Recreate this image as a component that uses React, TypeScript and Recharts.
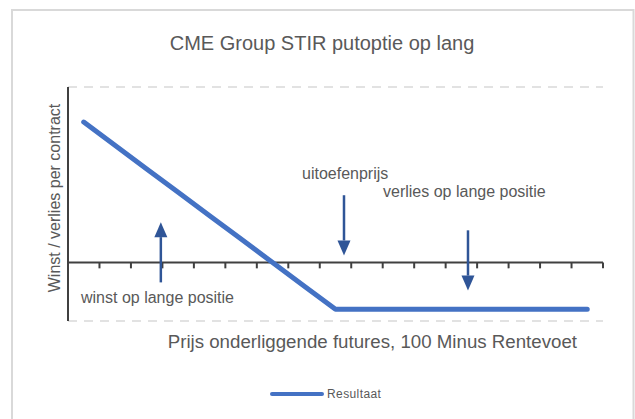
import { LineChart, Line, XAxis, YAxis, CartesianGrid, ReferenceLine } from 'recharts'

// price steps (category centres on a 0..17 axis) and the payoff of the long put
const priceSteps = [0.5, 1.5, 2.5, 3.5, 4.5, 5.5, 6.5, 7.5, 8.5, 9.5, 10.5, 11.5, 12.5, 13.5, 14.5, 15.5, 16.5]
const resultaat = [2.4, 2.0, 1.6, 1.2, 0.8, 0.4, 0, -0.4, -0.8, -0.8, -0.8, -0.8, -0.8, -0.8, -0.8, -0.8, -0.8]
const seriesName = 'Resultaat'

const xTicks = [0, 1, 2, 3, 4, 5, 6, 7, 8, 9, 10, 11, 12, 13, 14, 15, 16, 17]
const yTicks = [-1, 0, 1, 2, 3]

// annotation arrows, in data units
const arrowX = [2.95, 8.77, 12.71]
const arrowFrom = [-0.34, 1.15, 0.55]
const arrowTo = [0.69, 0.12, -0.48]

const data = priceSteps.map((x, i) => ({ x, resultaat: resultaat[i] }))

const GREY = '#595959'
const AXIS = '#404040'
const BLUE = '#4472C4'
const ARROW = '#2F5597'
const FONT = '"Liberation Sans", Arial, sans-serif'

const ArrowShape = (props: any) => {
  const { x1, y1, x2, y2 } = props
  const dir = y2 > y1 ? 1 : -1
  const head = 15
  const half = 6.5
  const baseY = y2 - dir * head
  return (
    <g>
      <line x1={x1} y1={y1} x2={x2} y2={baseY} stroke={ARROW} strokeWidth={2.5} />
      <polygon points={`${x2},${y2} ${x2 - half},${baseY} ${x2 + half},${baseY}`} fill={ARROW} />
    </g>
  )
}

export default function App() {
  return (
    <div style={{ position: 'absolute', left: 0, top: 0, width: 635, height: 419, background: '#fff', overflow: 'hidden' }}>
      <LineChart width={635} height={419} data={data} margin={{ top: 87, right: 32, bottom: 98, left: 58 }}>
        <CartesianGrid vertical={false} stroke="#D9D9D9" strokeWidth={1.5} strokeDasharray="9 7" />
        <XAxis type="number" dataKey="x" domain={[0, 17]} ticks={xTicks} hide />
        <YAxis
          type="number"
          domain={[-1, 3]}
          ticks={yTicks}
          width={10}
          tick={false}
          tickSize={6}
          axisLine={{ stroke: AXIS, strokeWidth: 2 }}
          tickLine={{ stroke: AXIS, strokeWidth: 2 }}
        />
        <ReferenceLine y={0} stroke={AXIS} strokeWidth={2} />
        {xTicks.slice(1).map(t => (
          <ReferenceLine key={t} segment={[{ x: t, y: 0 }, { x: t, y: -0.1 }]} stroke={AXIS} strokeWidth={2} />
        ))}
        {arrowX.map((x, i) => (
          <ReferenceLine key={'a' + i} segment={[{ x, y: arrowFrom[i] }, { x, y: arrowTo[i] }]} shape={ArrowShape} />
        ))}
        <Line
          type="linear"
          dataKey="resultaat"
          name={seriesName}
          stroke={BLUE}
          strokeWidth={5}
          strokeLinecap="round"
          strokeLinejoin="round"
          dot={false}
          activeDot={false}
          isAnimationActive={false}
        />
      </LineChart>
      <svg width={635} height={419} style={{ position: 'absolute', left: 0, top: 0, pointerEvents: 'none' }} fontFamily={FONT}>
        <rect x={12} y={10} width={621.5} height={430} fill="none" stroke="#D9D9D9" strokeWidth={2} />
        <text x={322} y={50} textAnchor="middle" fontSize={20} fill={GREY}>CME Group STIR putoptie op lang</text>
        <text x={60} y={198} textAnchor="middle" fontSize={16} fill={GREY} transform="rotate(-90 60 198)">Winst / verlies per contract</text>
        <text x={577} y={348} textAnchor="end" fontSize={18.7} fill={GREY}>Prijs onderliggende futures, 100 Minus Rentevoet</text>
        <text x={302} y={179} fontSize={16} fill={GREY}>uitoefenprijs</text>
        <text x={383} y={197} fontSize={16} fill={GREY}>verlies op lange positie</text>
        <text x={81} y={303} fontSize={16} fill={GREY}>winst op lange positie</text>
        <line x1={272} y1={394} x2={322} y2={394} stroke={BLUE} strokeWidth={4} strokeLinecap="round" />
        <text x={327} y={398} fontSize={12} letterSpacing={0.4} fill={GREY}>{seriesName}</text>
      </svg>
    </div>
  )
}
